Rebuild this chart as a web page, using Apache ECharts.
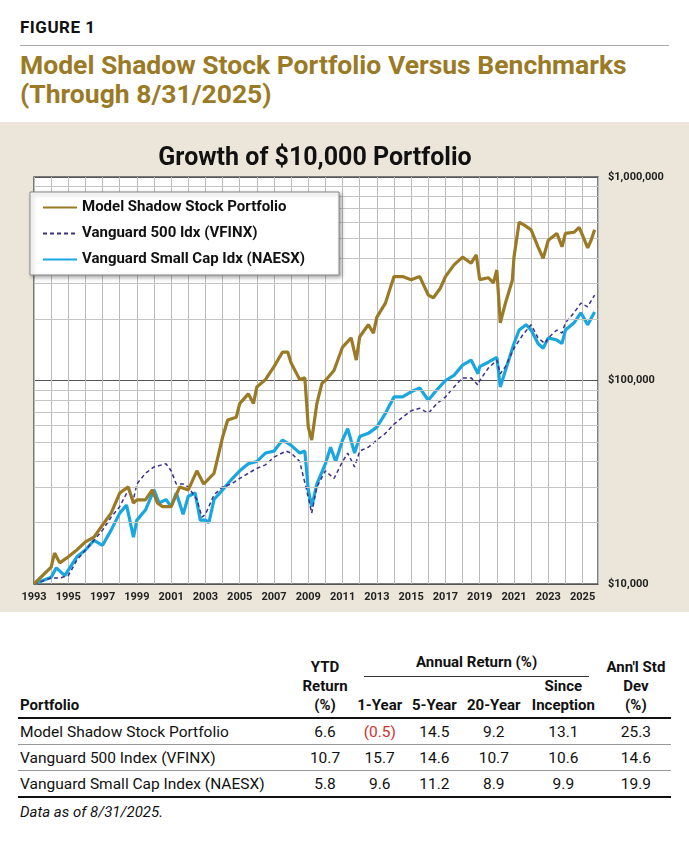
<!DOCTYPE html>
<html><head><meta charset="utf-8">
<script src="https://cdn.jsdelivr.net/npm/echarts@6/dist/echarts.min.js"></script>
<style>
body{margin:0;width:689px;height:843px;background:#fff;font-family:Roboto,"Noto Sans",sans-serif;position:relative;overflow:hidden}
#fig{position:absolute;left:20px;top:17px;font-weight:bold;font-size:17px;letter-spacing:0.5px;color:#111}
#rule{position:absolute;left:20px;right:20px;top:45px;border-top:1px solid #aaa}
#ttl{position:absolute;left:20px;top:50px;font-weight:bold;font-size:26.5px;line-height:29px;color:#9b7a26}
#panel{position:absolute;left:0;top:122px;width:689px;height:490px;background:#ece6da}
#chart{position:absolute;left:0;top:0;width:689px;height:490px}
table{position:absolute;left:18px;top:653px;width:653px;border-collapse:collapse;font-size:15.5px;color:#111}
td{padding:0 4px;height:25px;text-align:center}
td.l{text-align:left;padding-left:2px}
th{font-weight:bold;font-size:15px;line-height:19px;text-align:center;vertical-align:bottom;padding:0 2px 2px 2px}
#note{position:absolute;left:20px;top:803px;font-style:italic;font-size:15px;color:#111}
</style></head><body>
<div id="fig">FIGURE 1</div><div id="rule"></div>
<div id="ttl">Model Shadow Stock Portfolio Versus Benchmarks<br>(Through 8/31/2025)</div>
<div id="panel"><div id="chart"></div></div>
<table id="tbl"></table>
<div id="note">Data as of 8/31/2025.</div>
<script>
const seriesNames=["Model Shadow Stock Portfolio","Vanguard 500 Idx (VFINX)","Vanguard Small Cap Idx (NAESX)"];
const modelData=[[1993,10000],[1994,12100],[1994.2,14200],[1994.5,12700],[1995,13600],[1995.5,14700],[1996,16100],[1996.5,17000],[1997,19500],[1997.5,22300],[1998,28000],[1998.5,30000],[1998.8,25000],[1999,25900],[1999.5,25900],[1999.9,29000],[2000.2,25000],[2000.5,24000],[2001,24000],[2001.5,30000],[2002,29000],[2002.5,36000],[2002.9,31000],[2003,31500],[2003.5,35000],[2004,52600],[2004.3,64000],[2004.8,66000],[2005,77000],[2005.5,86000],[2005.8,77000],[2006,93000],[2006.5,101000],[2007,117000],[2007.5,138000],[2007.8,138000],[2008,122000],[2008.5,101000],[2008.8,103000],[2009,59000],[2009.2,51000],[2009.5,77000],[2009.8,97000],[2010,100000],[2010.5,112000],[2011,146000],[2011.5,162000],[2011.8,126000],[2012,164000],[2012.5,188000],[2012.8,171000],[2013,205000],[2013.5,240000],[2014,324000],[2014.5,324000],[2015,313000],[2015.5,324000],[2016,263000],[2016.3,255000],[2016.7,284000],[2017,324000],[2017.5,370000],[2018,404000],[2018.5,377000],[2018.8,414000],[2019,313000],[2019.5,320000],[2019.8,302000],[2020,349000],[2020.2,192000],[2020.5,240000],[2020.9,310000],[2021,404000],[2021.3,600000],[2021.6,580000],[2022,550000],[2022.4,454000],[2022.7,398000],[2023,489000],[2023.5,528000],[2023.8,454000],[2024,528000],[2024.5,535000],[2024.8,566000],[2025,517000],[2025.3,448000],[2025.5,489000],[2025.7,550000]];
const vfinxData=[[1993,10000],[1994,10700],[1994.5,10700],[1995,11000],[1995.5,13100],[1996,14700],[1996.5,16400],[1997,18400],[1997.5,21300],[1998,24000],[1998.5,29000],[1998.8,26000],[1999,31000],[1999.5,35000],[2000,37600],[2000.7,39000],[2001,36000],[2001.3,31000],[2001.7,31000],[2002,30000],[2002.5,26000],[2002.8,21300],[2003,22000],[2003.5,27400],[2004,30000],[2004.5,31000],[2005,33000],[2005.5,35000],[2006,37000],[2006.5,38500],[2007,42000],[2007.7,45000],[2008,44000],[2008.5,40000],[2008.9,29000],[2009.2,22300],[2009.5,30000],[2010,36000],[2010.5,33000],[2011,40000],[2011.3,44000],[2011.7,37600],[2012,45000],[2012.5,47000],[2013,51000],[2013.5,55000],[2014,61000],[2014.5,66000],[2015,71000],[2015.5,73000],[2016,69000],[2016.5,77000],[2017,83000],[2017.5,93000],[2018,103000],[2018.5,103000],[2018.9,95000],[2019,100000],[2019.5,115000],[2020,126000],[2020.2,108000],[2020.5,117000],[2021,144000],[2021.5,167000],[2022,188000],[2022.4,162000],[2022.8,152000],[2023,162000],[2023.5,177000],[2023.8,171000],[2024,192000],[2024.5,215000],[2024.9,240000],[2025.3,230000],[2025.7,263000]];
const naesxData=[[1993,10000],[1994,10800],[1994.3,12000],[1994.8,11000],[1995,11700],[1995.5,13600],[1996,14700],[1996.5,16400],[1997,15500],[1997.5,18400],[1998,22300],[1998.4,24400],[1998.8,17000],[1999,20600],[1999.5,23100],[2000,29000],[2000.3,25000],[2000.7,26000],[2001,24000],[2001.3,28000],[2001.7,22000],[2002,27000],[2002.4,28000],[2002.7,20600],[2003,20600],[2003.2,20000],[2003.5,26000],[2004,29000],[2004.5,32500],[2005,36000],[2005.5,39000],[2006,40000],[2006.5,44000],[2007,45000],[2007.5,51000],[2008,48000],[2008.5,44000],[2008.8,45000],[2009,29000],[2009.2,24000],[2009.5,31000],[2010,39000],[2010.3,47000],[2010.6,40000],[2011,51000],[2011.3,58000],[2011.7,44000],[2012,53000],[2012.5,55000],[2013,59000],[2013.5,69000],[2014,83000],[2014.5,83000],[2015,88000],[2015.5,92000],[2016,80000],[2016.5,90000],[2017,100000],[2017.5,106000],[2018,119000],[2018.5,126000],[2018.9,108000],[2019,117000],[2019.5,123000],[2020,130000],[2020.2,93000],[2020.5,112000],[2021,152000],[2021.3,177000],[2021.7,188000],[2022,177000],[2022.4,152000],[2022.7,144000],[2023,162000],[2023.5,158000],[2023.8,152000],[2024,177000],[2024.5,192000],[2024.9,215000],[2025.3,188000],[2025.7,217000]];
const minorGrid=[20000,30000,40000,50000,60000,70000,80000,90000,200000,300000,400000,500000,600000,700000,800000,900000];
const yTickLabels={10000:"$10,000",100000:"$100,000",1000000:"$1,000,000"};
const tableHead=["Portfolio","YTD<br>Return<br>(%)","1-Year","5-Year","20-Year","Since<br>Inception","Ann'l Std<br>Dev<br>(%)"];
const tableGroup="Annual Return (%)";
const tableRows=[["Model Shadow Stock Portfolio","6.6","(0.5)","14.5","9.2","13.1","25.3"],["Vanguard 500 Index (VFINX)","10.7","15.7","14.6","10.7","10.6","14.6"],["Vanguard Small Cap Index (NAESX)","5.8","9.6","11.2","8.9","9.9","19.9"]];

const c=echarts.init(document.getElementById('chart'));
const lab={fontFamily:'Roboto',fontWeight:'bold',fontSize:11,color:'#222'};
c.setOption({
 animation:false,
 title:{text:'Growth of $10,000 Portfolio',left:310,top:19,textAlign:'center',textStyle:{fontFamily:'Roboto',fontWeight:'bold',fontSize:25,color:'#111'}},
 grid:{left:34,top:55,width:564,height:407,backgroundColor:'#fff',show:true,borderColor:'#555',borderWidth:1.5},
 legend:{z:20,zlevel:1,orient:'vertical',left:30,top:70,padding:[8,34,8,12],itemGap:11,itemWidth:34,itemHeight:10,backgroundColor:'#fff',borderColor:'#888',borderWidth:1,shadowColor:'rgba(0,0,0,0.35)',shadowBlur:4,shadowOffsetX:2,shadowOffsetY:2,itemStyle:{opacity:0},textStyle:{fontFamily:'Roboto',fontWeight:'bold',fontSize:15,color:'#111'},data:seriesNames},
 xAxis:{type:'value',min:1993,max:2025.9,interval:1,axisLine:{show:false},axisTick:{show:false},
  splitLine:{show:true,lineStyle:{color:'#bbb',width:1}},
  axisLabel:{...lab,margin:8,showMaxLabel:false,formatter:v=>(Math.round(v)%2===1)?String(Math.round(v)):''}},
 yAxis:{type:'log',logBase:10,min:10000,max:1000000,position:'right',axisLine:{show:false},axisTick:{show:false},
  splitLine:{show:true,lineStyle:{color:'#555',width:1}},
  axisLabel:{...lab,margin:10,formatter:v=>yTickLabels[Math.round(v)]||''}},
 series:[
  {name:'grid',type:'line',data:[],silent:true,markLine:{silent:true,symbol:'none',label:{show:false},lineStyle:{color:'#c4c4c4',width:1,type:'solid'},data:minorGrid.map(v=>({yAxis:v}))}},
  {name:seriesNames[2],type:'line',data:naesxData,showSymbol:false,symbol:'none',lineStyle:{color:'#1aa7e0',width:3.2},itemStyle:{color:'#1aa7e0'},z:3},
  {name:seriesNames[1],type:'line',data:vfinxData,showSymbol:false,symbol:'none',lineStyle:{color:'#3b2f8c',width:1.5,type:[4,3]},itemStyle:{color:'#3b2f8c'},z:4},
  {name:seriesNames[0],type:'line',data:modelData,showSymbol:false,symbol:'none',lineStyle:{color:'#9b7a26',width:3.2},itemStyle:{color:'#9b7a26'},z:5}
 ]
});

const B='border-bottom:2.5px solid #111;';
let h='<tr>';
h+='<th rowspan="2" style="'+B+'text-align:left;padding-left:2px">'+tableHead[0]+'</th>';
h+='<th rowspan="2" style="'+B+'">'+tableHead[1]+'</th>';
h+='<th colspan="4" style="vertical-align:top;padding:0 0 0 0"><div style="margin:0 12px;border-bottom:1px solid #333;padding-bottom:4px">'+tableGroup+'</div></th>';
h+='<th rowspan="2" style="'+B+'">'+tableHead[6]+'</th></tr><tr>';
for(let i=2;i<=5;i++) h+='<th style="'+B+'">'+tableHead[i]+'</th>';
h+='</tr>';
tableRows.forEach((r,ri)=>{
  h+='<tr style="border-bottom:'+(ri===2?'2.5px solid #111':'1px solid #999')+'">';
  r.forEach((v,i)=>{h+='<td class="'+(i===0?'l':'')+'"'+(v.startsWith('(')?' style="color:#d0312d"':'')+'>'+v+'</td>';});
  h+='</tr>';
});
document.getElementById('tbl').innerHTML=h;
</script>
</body></html>
